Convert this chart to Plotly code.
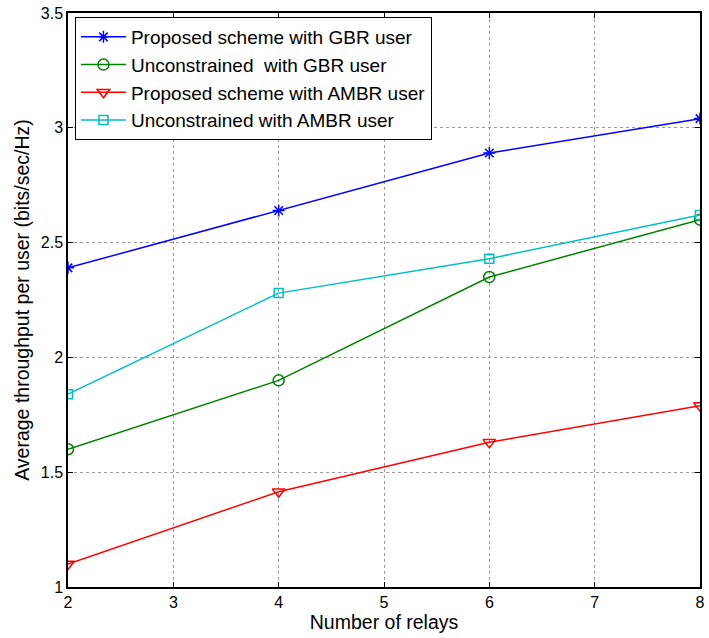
import plotly.graph_objects as go

relays = [2, 4, 6, 8]
proposed_gbr = [2.39, 2.64, 2.89, 3.04]
uncon_gbr = [1.60, 1.90, 2.35, 2.60]
proposed_ambr = [1.10, 1.415, 1.63, 1.79]
uncon_ambr = [1.84, 2.28, 2.43, 2.62]

names = ["Proposed scheme with GBR user", "Unconstrained  with GBR user",
         "Proposed scheme with AMBR user", "Unconstrained with AMBR user"]
series = [proposed_gbr, uncon_gbr, proposed_ambr, uncon_ambr]
colors = ["#0000ff", "#008000", "#ff0000", "#00bfbf"]
symbols = ["asterisk-open", "circle-open", "triangle-down-open", "square-open"]
sizes = [10, 11, 11, 9]

fig = go.Figure()
for n, s, c, m, sz in zip(names, series, colors, symbols, sizes):
    fig.add_trace(go.Scatter(x=relays, y=s, name=n, mode="lines+markers",
                             line=dict(color=c, width=1.5),
                             marker=dict(symbol=m, size=sz, color=c, line=dict(color=c, width=1.5))))

axis_common = dict(showline=True, linecolor="black", linewidth=1.5, mirror="ticks",
                   ticks="inside", ticklen=5, tickcolor="black",
                   showgrid=True, gridcolor="#9a9a9a", griddash="dot", gridwidth=1,
                   zeroline=False, tickfont=dict(size=16, color="black"))
fig.update_xaxes(range=[2, 8], dtick=1, title=dict(text="Number of relays", standoff=3,
                 font=dict(size=19.5, color="black")), **axis_common)
fig.update_yaxes(range=[1, 3.5], dtick=0.5, title=dict(text="Average throughput per user (bits/sec/Hz)",
                 standoff=6, font=dict(size=19.5, color="black")), **axis_common)

fig.update_layout(width=709, height=638, margin=dict(l=68, r=4, t=13, b=51),
                  plot_bgcolor="white", paper_bgcolor="white",
                  font=dict(family="Liberation Sans, Arial, sans-serif", color="black"),
                  legend=dict(x=0.011, y=0.993, xanchor="left", yanchor="top",
                              bgcolor="white", bordercolor="black", borderwidth=1,
                              font=dict(size=19), tracegroupgap=0, itemwidth=45))
fig.write_html("out.html")
